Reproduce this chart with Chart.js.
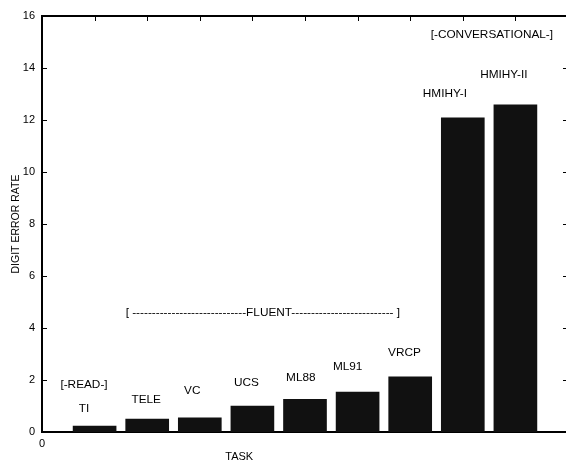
<!DOCTYPE html>
<html>
<head>
<meta charset="utf-8">
<script src="https://cdn.jsdelivr.net/npm/chart.js@4"></script>
<style>
  html, body { margin: 0; padding: 0; background: #fff; overflow: hidden; }
  #wrap { width: 600px; height: 460px; }
</style>
</head>
<body>
<div id="wrap"><canvas id="myChart" width="600" height="460"></canvas></div>
<script>
const ctx = document.getElementById("myChart");

const tasks = ["TI", "TELE", "VC", "UCS", "ML88", "ML91", "VRCP", "HMIHY-I", "HMIHY-II"];
const taskPos = [1, 2, 3, 4, 5, 6, 7, 8, 9];
const digitErrorRate = [0.24, 0.51, 0.56, 1.01, 1.27, 1.55, 2.13, 12.1, 12.6];
const yTicks = [0, 2, 4, 6, 8, 10, 12, 14, 16];

// text labels in data units (left edge, middle)
const noteText = [
  "[-READ-]", "TI", "TELE", "VC", "UCS", "ML88", "ML91", "VRCP",
  "[ -----------------------------FLUENT-------------------------- ]",
  "HMIHY-I", "HMIHY-II", "[-CONVERSATIONAL-]",
];
const noteX = [0.35, 0.70, 1.70, 2.70, 3.65, 4.64, 5.53, 6.58, 1.59, 7.24, 8.33, 7.39];
const noteY = [1.81, 0.88, 1.23, 1.59, 1.90, 2.08, 2.50, 3.05, 4.58, 13.0, 13.73, 15.27];

const FONT = "'Liberation Sans', Arial, sans-serif";

const framePlugin = {
  id: "frame",
  beforeDatasetsDraw(chart) {
    const { ctx, chartArea: a, scales } = chart;
    ctx.save();
    ctx.strokeStyle = "#000";
    ctx.lineWidth = 1;
    ctx.beginPath();
    for (let v = 0; v <= 10; v++) {
      const x = Math.round(scales.x.getPixelForValue(v)) + 0.5;
      ctx.moveTo(x, a.top); ctx.lineTo(x, a.top + 5);
      ctx.moveTo(x, a.bottom); ctx.lineTo(x, a.bottom - 5);
    }
    yTicks.forEach(v => {
      const y = Math.round(scales.y.getPixelForValue(v)) + 0.5;
      ctx.moveTo(a.left, y); ctx.lineTo(a.left + 5, y);
      ctx.moveTo(a.right, y); ctx.lineTo(a.right - 5, y);
    });
    ctx.stroke();
    ctx.lineWidth = 2;
    ctx.strokeRect(a.left, a.top, a.right - a.left, a.bottom - a.top);
    ctx.restore();
  },
  afterDraw(chart) {
    const { ctx, scales } = chart;
    ctx.save();
    ctx.fillStyle = "#000";
    ctx.font = "11.8px " + FONT;
    ctx.textAlign = "left";
    ctx.textBaseline = "middle";
    noteText.forEach((t, i) => {
      ctx.fillText(t, scales.x.getPixelForValue(noteX[i]), scales.y.getPixelForValue(noteY[i]));
    });
    ctx.font = "11px " + FONT;
    ctx.textAlign = "center";
    ctx.textBaseline = "alphabetic";
    ctx.fillText("TASK", scales.x.getPixelForValue(3.75), 460);
    ctx.restore();
  },
};

new Chart(ctx, {
  type: "bar",
  data: {
    labels: tasks,
    datasets: [
      {
        label: "Digit error rate",
        data: taskPos.map((x, i) => ({ x: x, y: digitErrorRate[i] })),
        backgroundColor: "#111111",
        borderWidth: 0,
        barPercentage: 0.83,
        categoryPercentage: 1,
      },
    ],
  },
  options: {
    responsive: false,
    animation: false,
    layout: { padding: { top: 16, right: 32, left: 0, bottom: 0 } },
    plugins: { legend: { display: false }, tooltip: { enabled: false } },
    scales: {
      x: {
        type: "linear",
        min: 0,
        max: 10,
        offset: false,
        grid: { display: false, drawTicks: false, offset: false },
        border: { display: false },
        afterFit: s => { s.height = 28; },
        ticks: {
          stepSize: 1,
          padding: 5,
          color: "#000",
          font: { family: FONT, size: 11 },
          callback: v => (v === 0 ? "0" : ""),
          maxRotation: 0,
        },
      },
      y: {
        min: 0,
        max: 16,
        grid: { display: false, drawTicks: false },
        border: { display: false },
        afterFit: s => { s.width = 42; },
        ticks: {
          stepSize: 2,
          padding: 7,
          color: "#000",
          font: { family: FONT, size: 11 },
        },
        title: {
          display: true,
          text: "DIGIT ERROR RATE",
          color: "#000",
          font: { family: FONT, size: 10.5 },
          padding: { top: 10, bottom: 0 },
        },
      },
    },
  },
  plugins: [framePlugin],
});
</script>
</body>
</html>
